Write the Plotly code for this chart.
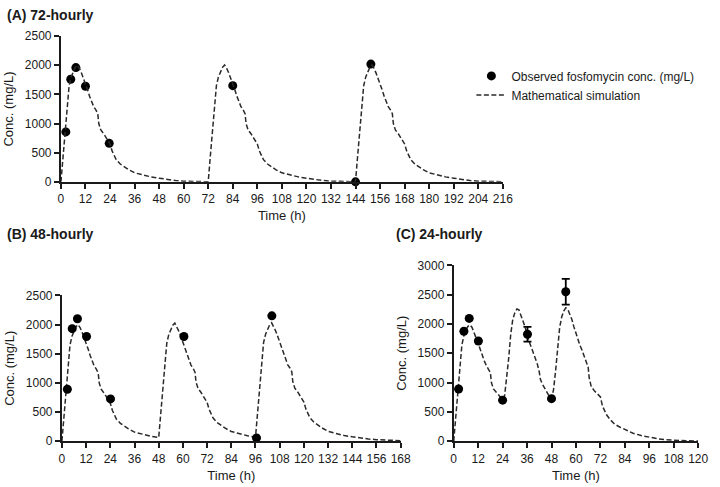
import plotly.graph_objects as go

# ---------------- Data ----------------
# Panel A: 72-hourly
simA_t = [0, 1, 2, 3, 4, 5, 6, 7, 8, 9, 10, 11, 12, 13, 14, 15, 16, 17, 18, 18.5, 19.5, 21, 22.5, 24,
          25, 26, 27, 29, 31, 33, 36, 40, 44, 48, 52, 56, 60, 66, 72,
          73, 74, 75, 76, 77, 78, 79, 80, 81, 82, 83, 84, 85, 86, 87, 88, 89, 90, 90.5, 91.5, 93, 94.5, 96,
          97, 98, 99, 101, 103, 105, 108, 112, 116, 120, 124, 128, 132, 138, 144,
          145, 146, 147, 148, 149, 150, 151, 152, 153, 154, 155, 156, 157, 158, 159, 160, 161, 162, 162.5, 163.5, 165, 166.5, 168,
          169, 170, 171, 173, 175, 177, 180, 184, 188, 192, 196, 200, 204, 210, 216]
simA_c = [0, 430, 860, 1290, 1650, 1800, 1900, 1965, 2005, 1950, 1870, 1780, 1680, 1580, 1470, 1370, 1290, 1240, 1170, 1000, 890, 820, 745, 650,
          530, 440, 380, 305, 255, 210, 155, 115, 85, 62, 38, 22, 12, 5, 0,
          430, 860, 1290, 1650, 1800, 1900, 1965, 2005, 1950, 1870, 1780, 1680, 1580, 1470, 1370, 1290, 1240, 1170, 1000, 890, 820, 745, 650,
          530, 440, 380, 305, 255, 210, 155, 115, 85, 62, 38, 22, 12, 5, 0,
          430, 860, 1290, 1650, 1800, 1900, 1965, 2005, 1950, 1870, 1780, 1680, 1580, 1470, 1370, 1290, 1240, 1170, 1000, 890, 820, 745, 650,
          530, 440, 380, 305, 255, 210, 155, 115, 85, 62, 38, 22, 12, 5, 2]
obsA_t = [2.4, 4.8, 7.3, 12, 23.6, 84, 144, 151.5]
obsA_c = [857, 1760, 1960, 1640, 660, 1650, 0, 2020]

# Panel B: 48-hourly
simB_t = [0, 1, 2, 3, 4, 5, 6, 7, 8, 9, 10, 11, 12, 13, 14, 15, 16, 17, 18, 18.5, 19.5, 21, 22.5, 24,
          25, 26, 27, 29, 31, 33, 36, 40, 44, 48,
          49, 50, 51, 52, 53, 54, 55, 56, 57, 58, 59, 60, 61, 62, 63, 64, 65, 66, 66.5, 67.5, 69, 70.5, 72,
          73, 74, 75, 77, 79, 81, 84, 88, 92, 96,
          97, 98, 99, 100, 101, 102, 103, 104, 105, 106, 107, 108, 109, 110, 111, 112, 113, 114, 114.5, 115.5, 117, 118.5, 120,
          121, 122, 123, 125, 127, 129, 132, 136, 140, 144, 148, 152, 156, 162, 168]
simB_c = [0, 430, 860, 1290, 1650, 1800, 1900, 1965, 2000, 1950, 1870, 1780, 1680, 1580, 1470, 1370, 1290, 1240, 1170, 1000, 890, 820, 745, 650,
          530, 440, 380, 305, 255, 210, 155, 115, 85, 62,
          480, 900, 1320, 1680, 1830, 1925, 1990, 2025, 1965, 1885, 1795, 1695, 1595, 1485, 1385, 1305, 1255, 1185, 1015, 905, 835, 760, 665,
          545, 455, 395, 320, 268, 222, 165, 125, 93, 68,
          490, 910, 1330, 1690, 1835, 1930, 1995, 2030, 1970, 1890, 1800, 1700, 1600, 1490, 1390, 1310, 1260, 1190, 1020, 910, 840, 765, 670,
          550, 460, 400, 325, 272, 226, 168, 128, 96, 74, 52, 37, 26, 15, 8]
obsB_t = [2.7, 5.1, 7.7, 12.2, 24.1, 60.5, 96.5, 104.1]
obsB_c = [890, 1930, 2100, 1795, 725, 1795, 55, 2150]

# Panel C: 24-hourly
simC_t = [0, 1, 2, 3, 4, 5, 6, 7, 8, 9, 10, 11, 12, 13, 14, 15, 16, 17, 18, 18.5, 19.5, 21, 22.5, 24,
          25, 26, 27, 28, 29, 30, 31, 32, 33, 34, 35, 36, 37, 38, 39, 40, 41, 42, 42.5, 43.5, 45, 46.5, 48,
          49, 50, 51, 52, 53, 54, 55, 56, 57, 58, 59, 60, 61, 62, 63, 64, 65, 66, 66.5, 67.5, 69, 70.5, 72,
          73, 74, 75, 77, 79, 81, 84, 88, 92, 96, 100, 104, 108, 114, 120]
simC_c = [0, 430, 860, 1290, 1640, 1800, 1900, 1960, 1985, 1940, 1860, 1770, 1670, 1570, 1460, 1370, 1290, 1240, 1170, 1000, 890, 830, 770, 710,
          780, 1090, 1420, 1830, 2080, 2190, 2255, 2240, 2160, 2050, 1950, 1810, 1700, 1610, 1520, 1420, 1320, 1180, 1060, 975, 870, 790, 725,
          880, 1200, 1540, 1940, 2120, 2220, 2275, 2250, 2160, 2075, 1950, 1830, 1720, 1630, 1550, 1440, 1350, 1260, 1080, 930, 860, 800, 755,
          600, 510, 450, 360, 290, 250, 195, 135, 95, 66, 42, 25, 14, 6, 2]
obsC_t = [2.4, 5.0, 7.6, 12.1, 24, 36.2, 48, 55]
obsC_c = [890, 1875, 2095, 1710, 700, 1825, 725, 2550]
obsC_err_plus = [None, None, None, None, None, 125, None, 220]
obsC_err_minus = [None, None, None, None, None, 125, None, 220]

ticksA = list(range(0, 217, 12))
ticksB = list(range(0, 169, 12))
ticksC = list(range(0, 121, 12))

# ---------------- Figure ----------------
FONT = "Liberation Sans, Arial, Helvetica, sans-serif"
DARK = "#1a1a1a"
W, H = 720, 487

fig = go.Figure()

line_style = dict(color="#2a2a2a", width=1.5, dash="5px,2.5px")
marker_style = dict(color="black", size=9, line=dict(width=0))

# Panel A
fig.add_trace(go.Scatter(x=obsA_t, y=obsA_c, mode="markers", marker=marker_style,
                         name="Observed fosfomycin conc. (mg/L)", xaxis="x", yaxis="y",
                         cliponaxis=False, legendrank=1))
fig.add_trace(go.Scatter(x=simA_t, y=simA_c, mode="lines", line=line_style,
                         name="Mathematical simulation", xaxis="x", yaxis="y",
                         cliponaxis=False, legendrank=2))
# Panel B
fig.add_trace(go.Scatter(x=simB_t, y=simB_c, mode="lines", line=line_style,
                         showlegend=False, xaxis="x2", yaxis="y2", cliponaxis=False))
fig.add_trace(go.Scatter(x=obsB_t, y=obsB_c, mode="markers", marker=marker_style,
                         showlegend=False, xaxis="x2", yaxis="y2", cliponaxis=False))
# Panel C
fig.add_trace(go.Scatter(x=simC_t, y=simC_c, mode="lines", line=line_style,
                         showlegend=False, xaxis="x3", yaxis="y3", cliponaxis=False))
fig.add_trace(go.Scatter(x=obsC_t, y=obsC_c, mode="markers", marker=marker_style,
                         error_y=dict(type="data", array=obsC_err_plus, arrayminus=obsC_err_minus,
                                      symmetric=False, color="black", thickness=1.8, width=4),
                         showlegend=False, xaxis="x3", yaxis="y3", cliponaxis=False))

def px_x(p):
    return p / W

def px_y(p):
    return 1 - p / H

axis_common = dict(showline=True, linecolor=DARK, linewidth=2, ticks="outside", ticklen=5,
                   tickwidth=1.5, tickcolor=DARK, showgrid=False, zeroline=False,
                   tickfont=dict(family=FONT, size=12, color=DARK),
                   title_font=dict(family=FONT, size=13, color=DARK))

fig.update_layout(
    width=W, height=H, autosize=False,
    margin=dict(l=0, r=0, t=0, b=0),
    paper_bgcolor="white", plot_bgcolor="white",
    font=dict(family=FONT, size=12, color=DARK),
    xaxis=dict(domain=[px_x(59), px_x(509)], range=[0, 216], tickvals=ticksA, anchor="y",
               title=dict(text="Time (h)", standoff=6), **axis_common),
    yaxis=dict(domain=[px_y(180), px_y(30)], range=[0, 2500], dtick=500, anchor="x",
               title=dict(text="Conc. (mg/L)", standoff=8), **axis_common),
    xaxis2=dict(domain=[px_x(60), px_x(405)], range=[0, 168], tickvals=ticksB, anchor="y2",
                title=dict(text="Time (h)", standoff=6), **axis_common),
    yaxis2=dict(domain=[px_y(447), px_y(297)], range=[0, 2500], dtick=500, anchor="x2",
                title=dict(text="Conc. (mg/L)", standoff=8), **axis_common),
    xaxis3=dict(domain=[px_x(459), px_x(708)], range=[0, 120], tickvals=ticksC, anchor="y3",
                title=dict(text="Time (h)", standoff=6), **axis_common),
    yaxis3=dict(domain=[px_y(447), px_y(266)], range=[0, 3000], dtick=500, anchor="x3",
                title=dict(text="Conc. (mg/L)", standoff=8), **axis_common),
    showlegend=True,
    legend=dict(x=px_x(477), y=px_y(56), xanchor="left", yanchor="top",
                font=dict(family=FONT, size=12, color=DARK), bgcolor="rgba(0,0,0,0)",
                tracegroupgap=0, itemwidth=30),
    annotations=[
        dict(text="<b>(A) 72-hourly</b>", x=px_x(2), y=px_y(8), xref="paper", yref="paper",
             xanchor="left", yanchor="middle", showarrow=False,
             font=dict(family=FONT, size=14, color=DARK)),
        dict(text="<b>(B) 48-hourly</b>", x=px_x(2), y=px_y(234), xref="paper", yref="paper",
             xanchor="left", yanchor="middle", showarrow=False,
             font=dict(family=FONT, size=14, color=DARK)),
        dict(text="<b>(C) 24-hourly</b>", x=px_x(398), y=px_y(234), xref="paper", yref="paper",
             xanchor="left", yanchor="middle", showarrow=False,
             font=dict(family=FONT, size=14, color=DARK)),
    ],
)

fig.write_html("out.html", config={"displayModeBar": False},
               post_script="document.body.style.margin='0';document.body.style.overflow='hidden';")
